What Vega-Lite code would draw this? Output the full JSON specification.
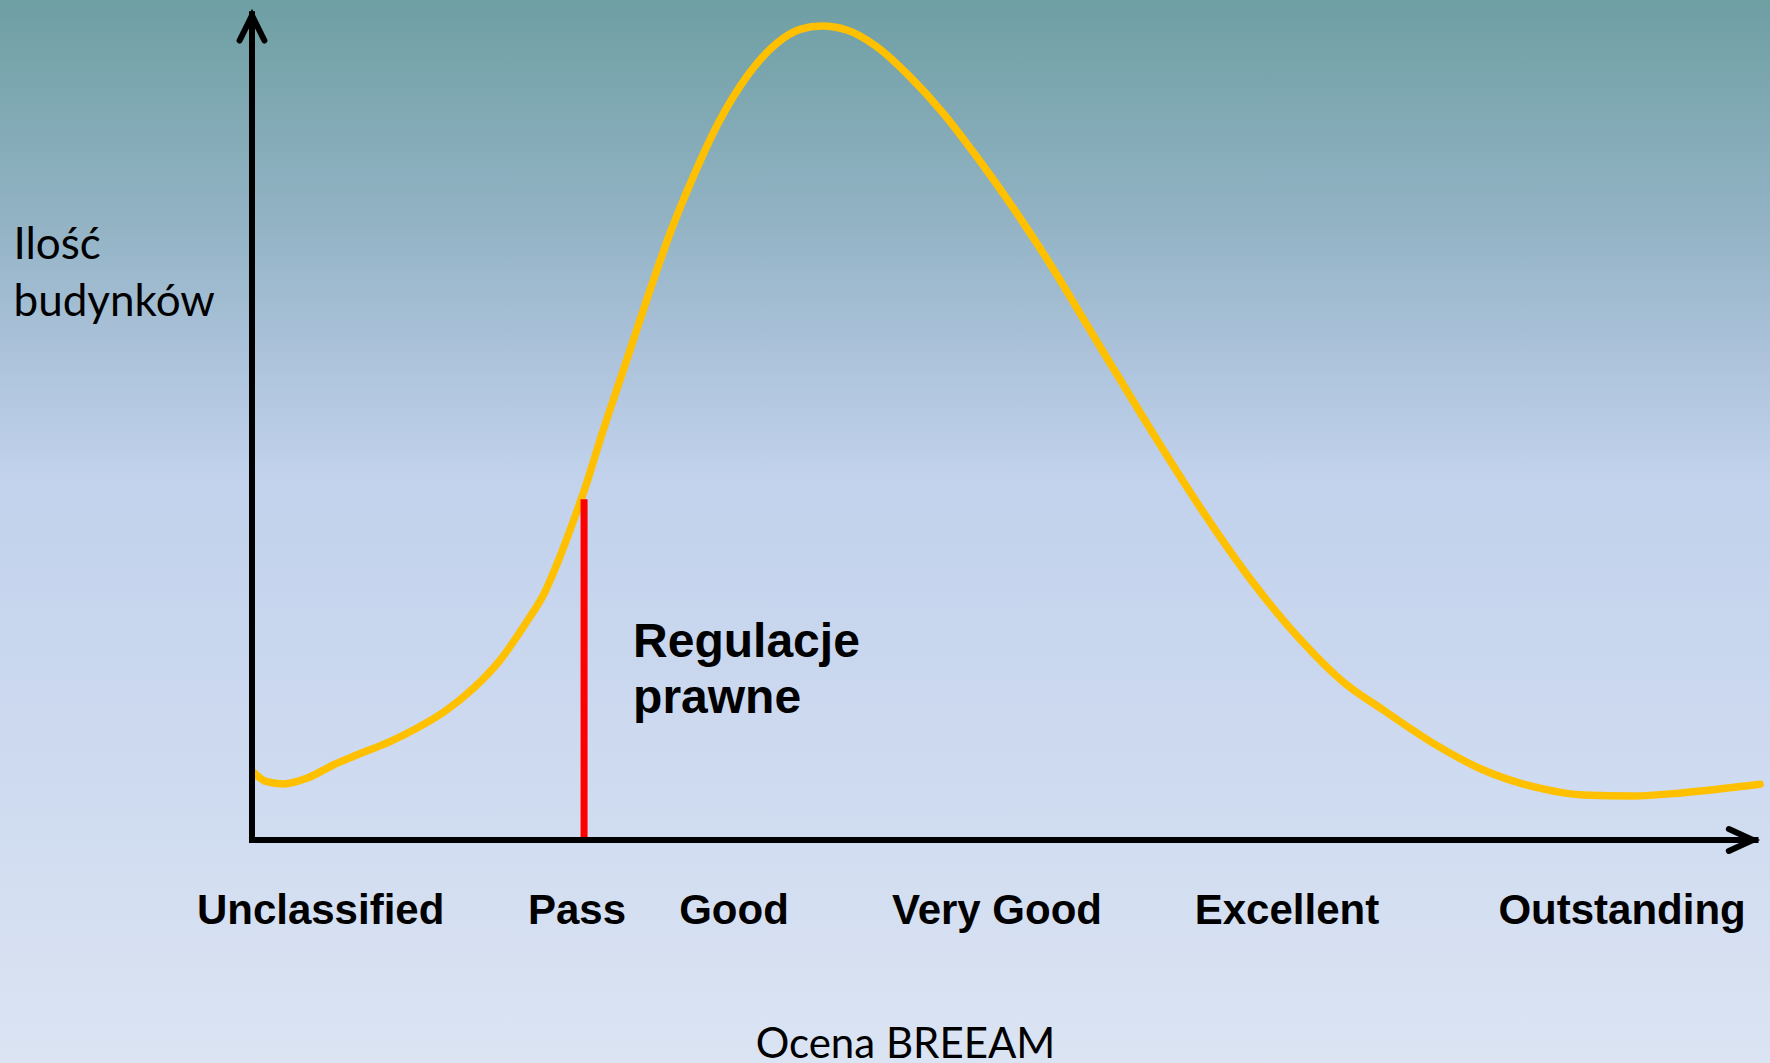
{
  "$schema": "https://vega.github.io/schema/vega-lite/v6.json",
  "width": 1770,
  "height": 1063,
  "autosize": {"type": "none"},
  "padding": 0,
  "background": "#c8d6ee",
  "config": {
    "view": {
      "stroke": null,
      "fill": {"gradient": "linear", "x1": 0, "y1": 0, "x2": 0, "y2": 1,
        "stops": [
          {"offset": 0, "color": "#6e9fa3"},
          {"offset": 0.2, "color": "#91b2c3"},
          {"offset": 0.33, "color": "#abc2da"},
          {"offset": 0.45, "color": "#c2d2ec"},
          {"offset": 0.75, "color": "#cfdbf0"},
          {"offset": 1, "color": "#dbe4f3"}
        ]}
    },
    "axis": {"domain": false, "ticks": false, "labels": false, "grid": false}
  },
  "datasets": {
    "curve": [
      {"score": 0.07, "count": 8.2}, {"score": 0.97, "count": 7.03}, {"score": 2.08, "count": 6.76},
      {"score": 3.63, "count": 7.44}, {"score": 5.39, "count": 9.05}, {"score": 6.94, "count": 10.25},
      {"score": 9.15, "count": 11.86}, {"score": 10.92, "count": 13.47}, {"score": 12.91, "count": 15.68},
      {"score": 14.68, "count": 18.3}, {"score": 16.45, "count": 21.71}, {"score": 18.22, "count": 26.33},
      {"score": 19.32, "count": 29.55}, {"score": 20.42, "count": 34.17}, {"score": 21.31, "count": 38.48},
      {"score": 22.19, "count": 43.03}, {"score": 23.08, "count": 48.25}, {"score": 24.85, "count": 57.9},
      {"score": 26.17, "count": 65.14}, {"score": 27.72, "count": 73.18}, {"score": 29.26, "count": 80.01},
      {"score": 31.03, "count": 86.85}, {"score": 32.8, "count": 92.07}, {"score": 34.79, "count": 96.1},
      {"score": 36.34, "count": 97.79}, {"score": 37.78, "count": 98.19}, {"score": 39.44, "count": 97.71},
      {"score": 41.43, "count": 95.69}, {"score": 43.63, "count": 92.07}, {"score": 45.84, "count": 87.66},
      {"score": 48.06, "count": 82.42}, {"score": 50.27, "count": 76.8}, {"score": 52.47, "count": 70.77},
      {"score": 56.23, "count": 59.54}, {"score": 59.55, "count": 49.63}, {"score": 62.86, "count": 40.16},
      {"score": 66.18, "count": 31.53}, {"score": 69.5, "count": 24.21}, {"score": 72.37, "count": 19.05},
      {"score": 75.02, "count": 15.68}, {"score": 78.34, "count": 11.66}, {"score": 81.65, "count": 8.44},
      {"score": 84.97, "count": 6.43}, {"score": 88.28, "count": 5.43}, {"score": 91.6, "count": 5.31},
      {"score": 94.91, "count": 5.71}, {"score": 100, "count": 6.72}
    ],
    "ratings": [
      {"rating": "Unclassified", "score": 4.55},
      {"rating": "Pass", "score": 21.55},
      {"rating": "Good", "score": 31.96},
      {"rating": "Very Good", "score": 49.4},
      {"rating": "Excellent", "score": 68.63},
      {"rating": "Outstanding", "score": 90.85}
    ],
    "threshold": [
      {"score": 22.02, "count": 41.1, "base": 0, "note": "Regulacje prawne"}
    ],
    "frame": [
      {"axis": "x", "score": 0, "count": 0, "score2": 99.7, "count2": 0},
      {"axis": "y", "score": 0, "count": 0, "score2": 0, "count2": 99.6}
    ],
    "arrows": [
      {"dir": "right", "score": 100, "count": 0},
      {"dir": "up", "score": 0, "count": 100}
    ]
  },
  "layer": [
    {
      "data": {"name": "curve"},
      "mark": {"type": "line", "interpolate": "monotone", "color": "#FFC000", "strokeWidth": 7.5, "strokeCap": "round"},
      "encoding": {
        "x": {"field": "score", "type": "quantitative",
          "scale": {"domain": [-16.71, 100.66], "nice": false, "zero": false},
          "axis": {"title": "Ocena BREEAM", "domain": false, "ticks": false, "labels": false, "grid": false,
            "titleX": 905, "titleY": -6, "titleAlign": "center", "titleBaseline": "alphabetic", "titleAngle": 0,
            "titleFont": "Lato", "titleFontSize": 42, "titleFontWeight": "normal", "titleColor": "#000000"}},
        "y": {"field": "count", "type": "quantitative",
          "scale": {"domain": [-26.9, 101.33], "nice": false, "zero": false},
          "axis": {"title": ["Ilość", "budynków"], "domain": false, "ticks": false, "labels": false, "grid": false,
            "titleX": 13, "titleY": 258, "titleAlign": "left", "titleBaseline": "alphabetic", "titleAngle": 0,
            "titleFont": "Lato", "titleFontSize": 44, "titleFontWeight": "normal", "titleColor": "#000000", "titleLineHeight": 57}}
      }
    },
    {
      "data": {"name": "threshold"},
      "mark": {"type": "rule", "color": "#FF0000", "strokeWidth": 7},
      "encoding": {
        "x": {"field": "score", "type": "quantitative", "scale": {"domain": [-16.71, 100.66], "nice": false, "zero": false}},
        "y": {"field": "base", "type": "quantitative", "scale": {"domain": [-26.9, 101.33], "nice": false, "zero": false}},
        "y2": {"field": "count"}
      }
    },
    {
      "data": {"name": "threshold"},
      "mark": {"type": "text", "align": "left", "baseline": "alphabetic", "dx": 49, "dy": 158, "font": "Liberation Sans", "fontWeight": "bold", "fontSize": 48, "lineBreak": " ", "lineHeight": 56, "color": "#000000"},
      "encoding": {
        "x": {"field": "score", "type": "quantitative", "scale": {"domain": [-16.71, 100.66], "nice": false, "zero": false}},
        "y": {"field": "count", "type": "quantitative", "scale": {"domain": [-26.9, 101.33], "nice": false, "zero": false}},
        "text": {"field": "note"}
      }
    },
    {
      "data": {"name": "frame"},
      "mark": {"type": "rule", "color": "#000000", "strokeWidth": 6, "strokeCap": "square"},
      "encoding": {
        "x": {"field": "score", "type": "quantitative", "scale": {"domain": [-16.71, 100.66], "nice": false, "zero": false}},
        "x2": {"field": "score2"},
        "y": {"field": "count", "type": "quantitative", "scale": {"domain": [-26.9, 101.33], "nice": false, "zero": false}},
        "y2": {"field": "count2"}
      }
    },
    {
      "data": {"name": "arrows"},
      "mark": {"type": "point", "size": 500, "filled": false, "stroke": "#000000", "strokeWidth": 6, "strokeCap": "round", "strokeJoin": "miter", "opacity": 1},
      "encoding": {
        "x": {"field": "score", "type": "quantitative", "scale": {"domain": [-16.71, 100.66], "nice": false, "zero": false}},
        "y": {"field": "count", "type": "quantitative", "scale": {"domain": [-26.9, 101.33], "nice": false, "zero": false}},
        "shape": {"field": "dir", "type": "nominal", "legend": null,
          "scale": {"domain": ["right", "up"], "range": ["M -2.79 -0.98 L -0.64 0 L -2.79 0.98", "M -1.11 2.64 L 0 0.4 L 1.11 2.64"]}}
      }
    },
    {
      "data": {"name": "ratings"},
      "mark": {"type": "text", "align": "center", "baseline": "alphabetic", "dy": 84, "font": "Liberation Sans", "fontWeight": "bold", "fontSize": 42, "color": "#000000"},
      "encoding": {
        "x": {"field": "score", "type": "quantitative", "scale": {"domain": [-16.71, 100.66], "nice": false, "zero": false}},
        "y": {"datum": 0, "type": "quantitative", "scale": {"domain": [-26.9, 101.33], "nice": false, "zero": false}},
        "text": {"field": "rating"}
      }
    }
  ]
}
